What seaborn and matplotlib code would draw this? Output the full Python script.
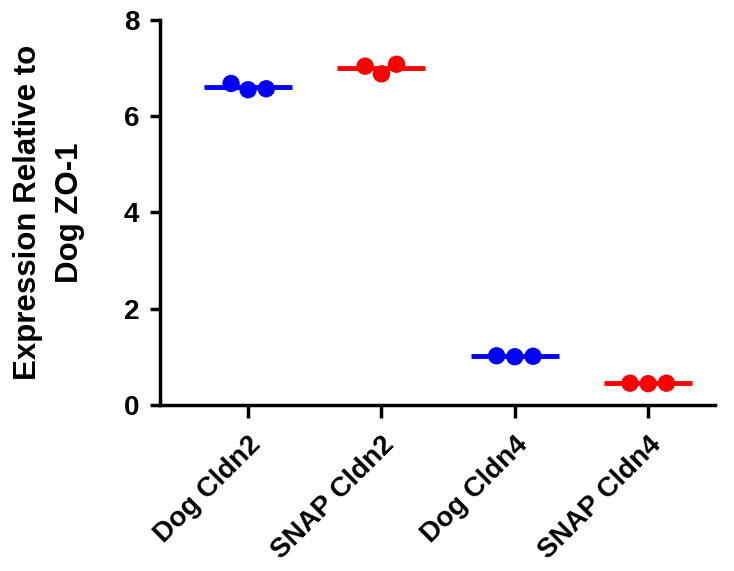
import pandas as pd
import matplotlib
matplotlib.use("Agg")
import matplotlib.pyplot as plt
import seaborn as sns

groups = ["Dog Cldn2", "SNAP Cldn2", "Dog Cldn4", "SNAP Cldn4"]
dog_cldn2 = [6.68, 6.55, 6.57]
snap_cldn2 = [7.08, 6.88, 7.04]
dog_cldn4 = [1.02, 1.00, 1.01]
snap_cldn4 = [0.45, 0.44, 0.45]
colors = ["#0000ff", "#ff0000", "#0000ff", "#ff0000"]

df = pd.DataFrame({
    "group": [g for g, v in zip(groups, [dog_cldn2, snap_cldn2, dog_cldn4, snap_cldn4]) for _ in v],
    "value": dog_cldn2 + snap_cldn2 + dog_cldn4 + snap_cldn4,
})

sns.set_style("ticks", {"axes.edgecolor": "black", "xtick.color": "black",
                        "ytick.color": "black", "text.color": "black",
                        "axes.labelcolor": "black"})
plt.rcParams["font.family"] = ["Liberation Sans", "DejaVu Sans"]
plt.rcParams["font.weight"] = "bold"

fig = plt.figure(figsize=(7.34, 5.71), dpi=100)
ax = fig.add_axes([0.218, 0.291, 0.756, 0.674])

sns.swarmplot(data=df, x="group", y="value", hue="group", order=groups,
              palette=colors, size=12.5, linewidth=0, ax=ax, legend=False)

means = df.groupby("group")["value"].mean()
for i, g in enumerate(groups):
    ax.hlines(means[g], i - 0.33, i + 0.33, color=colors[i], lw=3.5, zorder=1)

ax.set_ylim(0, 8)
ax.set_yticks([0, 2, 4, 6, 8])
ax.set_xlim(-0.66, 3.5)
ax.set_xlabel("")
ax.set_ylabel("Expression Relative to\nDog ZO-1", fontsize=22.5, fontweight="bold",
              labelpad=28, linespacing=1.5)
ax.set_xticks(range(len(groups)))
ax.set_xticklabels(groups, rotation=45, ha="right", rotation_mode="anchor",
                   fontsize=20, fontweight="bold")
ax.tick_params(axis="y", labelsize=20, width=2.5, length=7, pad=8)
ax.tick_params(axis="x", width=2.5, length=9, pad=10)
for lab in ax.get_yticklabels():
    lab.set_fontweight("bold")
for s in ["left", "bottom"]:
    ax.spines[s].set_linewidth(2.5)
sns.despine(ax=ax)

fig.savefig("out.png", dpi=100)
